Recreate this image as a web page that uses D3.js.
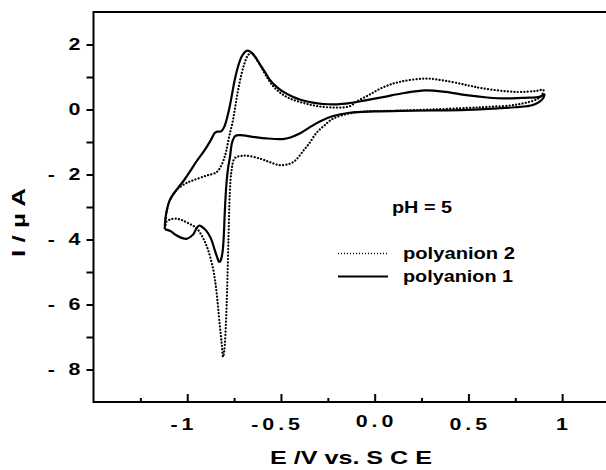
<!DOCTYPE html>
<html>
<head>
<meta charset="utf-8">
<script src="https://cdn.jsdelivr.net/npm/d3@7"></script>
<style>
  body { margin: 0; background: #fff; }
  svg text { font-family: "Liberation Sans", Arial, sans-serif; font-weight: bold; fill: #000; }
</style>
</head>
<body>
<svg id="chart"></svg>
<script>
// cyclic voltammograms, [E (V vs SCE), I (uA)] in scan order
let polyanion2 = [
  [-1.115,-3.55],[-1.112,-3.2],[-1.093,-2.79],[-1.058,-2.48],[-1.01,-2.28],[-0.969,-2.18],
  [-0.90,-2.04],[-0.844,-1.93],[-0.818,-1.72],[-0.80,-1.45],[-0.791,-1.25],[-0.775,-0.8],
  [-0.756,-0.33],[-0.742,0.15],[-0.729,0.59],[-0.71,1.1],[-0.693,1.45],[-0.675,1.68],
  [-0.66,1.74],[-0.642,1.64],[-0.613,1.38],[-0.575,1.0],[-0.542,0.72],[-0.50,0.5],
  [-0.453,0.34],[-0.38,0.2],[-0.311,0.11],[-0.22,0.06],[-0.133,0.1],[-0.098,0.24],
  [-0.03,0.45],[0.044,0.68],[0.133,0.85],[0.276,0.95],[0.4,0.86],[0.5,0.74],[0.578,0.65],
  [0.756,0.54],[0.86,0.57],[0.9,0.6],
  [0.895,0.48],[0.87,0.33],[0.756,0.15],[0.6,0.08],[0.5,0.05],[0.3,0.0],[0.1,-0.04],
  [-0.05,-0.06],[-0.133,-0.12],[-0.222,-0.28],[-0.27,-0.5],[-0.311,-0.72],[-0.35,-1.05],
  [-0.382,-1.28],[-0.42,-1.55],[-0.453,-1.67],[-0.507,-1.71],[-0.56,-1.62],[-0.613,-1.51],
  [-0.684,-1.42],[-0.715,-1.43],[-0.747,-1.5],[-0.764,-1.9],[-0.773,-2.6],[-0.78,-4.0],
  [-0.787,-5.5],[-0.793,-6.5],[-0.802,-7.4],[-0.809,-7.61],[-0.816,-7.2],[-0.827,-6.6],
  [-0.844,-5.6],[-0.862,-4.9],[-0.89,-4.3],[-0.916,-3.95],[-0.95,-3.65],[-0.987,-3.52],
  [-1.03,-3.4],[-1.058,-3.36],[-1.09,-3.38],[-1.111,-3.45]
];

let polyanion1 = [
  [-1.12,-3.68],[-1.115,-3.3],[-1.093,-2.79],[-1.058,-2.48],[-1.02,-2.2],[-0.987,-1.92],
  [-0.951,-1.6],[-0.907,-1.25],[-0.875,-0.95],[-0.853,-0.72],[-0.84,-0.68],[-0.818,-0.67],
  [-0.8,-0.5],[-0.785,-0.2],[-0.773,0.1],[-0.76,0.5],[-0.747,0.9],[-0.73,1.3],[-0.71,1.62],
  [-0.69,1.78],[-0.676,1.81],[-0.655,1.74],[-0.635,1.6],[-0.613,1.4],[-0.585,1.15],
  [-0.56,0.92],[-0.52,0.68],[-0.489,0.55],[-0.44,0.4],[-0.4,0.31],[-0.33,0.21],[-0.276,0.17],
  [-0.2,0.16],[-0.133,0.2],[-0.05,0.28],[0.044,0.38],[0.15,0.5],[0.27,0.59],[0.38,0.54],
  [0.489,0.44],[0.6,0.37],[0.7,0.34],[0.8,0.36],[0.88,0.39],[0.905,0.47],
  [0.895,0.32],[0.844,0.14],[0.75,0.07],[0.667,0.04],[0.489,-0.01],[0.3,-0.03],[0.133,-0.04],
  [0,-0.06],[-0.133,-0.1],[-0.222,-0.2],[-0.29,-0.36],[-0.347,-0.55],[-0.4,-0.74],
  [-0.45,-0.86],[-0.489,-0.91],[-0.578,-0.89],[-0.65,-0.84],[-0.72,-0.79],[-0.745,-0.82],
  [-0.76,-1.0],[-0.773,-1.5],[-0.782,-1.8],[-0.791,-2.3],[-0.8,-3.2],[-0.805,-3.9],
  [-0.812,-4.4],[-0.822,-4.65],[-0.83,-4.69],[-0.84,-4.55],[-0.853,-4.33],[-0.875,-3.95],
  [-0.9,-3.72],[-0.924,-3.6],[-0.935,-3.57],[-0.95,-3.65],[-0.969,-3.85],[-1.004,-3.98],
  [-1.03,-3.95],[-1.058,-3.87],[-1.09,-3.74],[-1.12,-3.68]
];

let xTicks = [-1, -0.5, 0, 0.5, 1];
let xTickLabels = ["-1", "-0.5", "0.0", "0.5", "1"];
let xMinorTicks = [-1.25, -0.75, -0.25, 0.25, 0.75];
let yTicks = [2, 0, -2, -4, -6, -8];
let yTickLabels = ["2", "0", "- 2", "- 4", "- 6", "- 8"];
let yMinorTicks = [1, -1, -3, -5, -7];
let legendNames = ["polyanion 2", "polyanion 1"];

let width = 606, height = 470;
let svg = d3.select("#chart").attr("width", width).attr("height", height);

let x = d3.scaleLinear().domain([-1.5, 1.25]).range([93.5, 609]);
let y = d3.scaleLinear().domain([-9, 3]).range([402, 12]);

// frame: left, bottom, top
svg.append("path")
  .attr("d", `M${x(1.25)},${y(3)}H${x(-1.5)}V${y(-9)}H${x(1.25)}`)
  .attr("fill", "none").attr("stroke", "#000").attr("stroke-width", 2);

// x ticks (inside)
let axisX = d3.axisBottom(x).tickValues(xTicks).tickSize(-8)
  .tickFormat((d, i) => xTickLabels[i]);
let gx = svg.append("g").attr("transform", `translate(0,${y(-9)})`).call(axisX);
gx.select(".domain").remove();
gx.selectAll(".tick line").attr("stroke-width", 2);
gx.selectAll(".tick text")
  .style("font-family", "Liberation Sans, Arial, sans-serif")
  .attr("font-size", 16.5).attr("letter-spacing", 3)
  .attr("transform", "scale(1.3,1)")
  .attr("dy", d => d === 0 ? 22 : 25)
  .attr("dx", d => d < 0 ? -3 : 1);
let gxm = svg.append("g").attr("transform", `translate(0,${y(-9)})`)
  .call(d3.axisBottom(x).tickValues(xMinorTicks).tickSize(-4).tickFormat(""));
gxm.select(".domain").remove();
gxm.selectAll(".tick line").attr("stroke-width", 2);

// y ticks (outside)
let axisY = d3.axisLeft(y).tickValues(yTicks).tickSize(7)
  .tickFormat((d, i) => yTickLabels[i]);
let gy = svg.append("g").attr("transform", `translate(${x(-1.5)},0)`).call(axisY);
gy.select(".domain").remove();
gy.selectAll(".tick line").attr("stroke-width", 2);
gy.selectAll(".tick text")
  .style("font-family", "Liberation Sans, Arial, sans-serif")
  .attr("font-size", 16.5).attr("letter-spacing", 3)
  .attr("transform", "scale(1.3,1)")
  .attr("x", -7);
let gym = svg.append("g").attr("transform", `translate(${x(-1.5)},0)`)
  .call(d3.axisLeft(y).tickValues(yMinorTicks).tickSize(7).tickFormat(""));
gym.select(".domain").remove();
gym.selectAll(".tick line").attr("stroke-width", 2);

// axis titles
svg.append("text").attr("x", 270).attr("y", 464)
  .attr("font-size", 18.5).attr("textLength", 162).attr("lengthAdjust", "spacingAndGlyphs")
  .text("E /V vs. S C E");
svg.append("text").attr("transform", "translate(25,257) rotate(-90)")
  .attr("font-size", 18).attr("textLength", 69).attr("lengthAdjust", "spacingAndGlyphs")
  .text("I / µ A");

// curves
let line = d3.line()
  .x(d => x(d[0]))
  .y(d => y(d[1]))
  .curve(d3.curveCatmullRom.alpha(0.5));

svg.append("path").datum(polyanion2).attr("d", line)
  .attr("fill", "none").attr("stroke", "#000").attr("stroke-width", 2.2)
  .attr("stroke-linecap", "round").attr("stroke-dasharray", "0.1 3.2");

svg.append("path").datum(polyanion1).attr("d", line)
  .attr("fill", "none").attr("stroke", "#000").attr("stroke-width", 2.2)
  .attr("stroke-linejoin", "round");

// annotation + legend
svg.append("text").attr("x", 392).attr("y", 213).attr("font-size", 16.5)
  .attr("textLength", 60).attr("lengthAdjust", "spacingAndGlyphs").text("pH = 5");

let legendY = [253.5, 276.5];
let legendLen = [112, 110];
legendNames.forEach((name, i) => {
  svg.append("line").attr("x1", 338).attr("x2", 388)
    .attr("y1", legendY[i]).attr("y2", legendY[i])
    .attr("stroke", "#000")
    .attr("stroke-width", i === 0 ? 1.5 : 2)
    .attr("stroke-dasharray", i === 0 ? "1 2" : null);
  svg.append("text").attr("x", 403).attr("y", legendY[i] + 5.5)
    .attr("font-size", 16.5).attr("textLength", legendLen[i])
    .attr("lengthAdjust", "spacingAndGlyphs").text(name);
});
</script>
</body>
</html>
